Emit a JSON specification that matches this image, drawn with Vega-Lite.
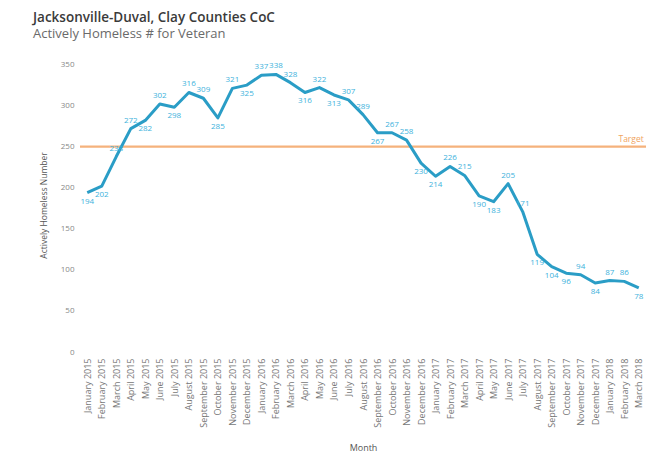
{
  "$schema": "https://vega.github.io/schema/vega-lite/v6.json",
  "width": 566,
  "height": 294,
  "autosize": {"type": "none"},
  "padding": {"left": 80, "top": 58, "right": 6, "bottom": 114},
  "background": "white",
  "title": {
    "text": "Jacksonville-Duval, Clay Counties CoC",
    "subtitle": "Actively Homeless # for Veteran",
    "anchor": "start",
    "frame": "group",
    "dx": -47,
    "offset": 17,
    "font": "Open Sans",
    "fontSize": 13.5,
    "fontWeight": 600,
    "color": "#3a3a3a",
    "subtitleFont": "Open Sans",
    "subtitleFontSize": 13,
    "subtitleColor": "#6a6a6a",
    "subtitlePadding": 4
  },
  "config": {
    "view": {"stroke": null},
    "font": "Open Sans"
  },
  "datasets": {
    "veterans": [
      {"month": "January 2015", "homeless": 194},
      {"month": "February 2015", "homeless": 202},
      {"month": "March 2015", "homeless": 238},
      {"month": "April 2015", "homeless": 272},
      {"month": "May 2015", "homeless": 282},
      {"month": "June 2015", "homeless": 302},
      {"month": "July 2015", "homeless": 298},
      {"month": "August 2015", "homeless": 316},
      {"month": "September 2015", "homeless": 309},
      {"month": "October 2015", "homeless": 285},
      {"month": "November 2015", "homeless": 321},
      {"month": "December 2015", "homeless": 325},
      {"month": "January 2016", "homeless": 337},
      {"month": "February 2016", "homeless": 338},
      {"month": "March 2016", "homeless": 328},
      {"month": "April 2016", "homeless": 316},
      {"month": "May 2016", "homeless": 322},
      {"month": "June 2016", "homeless": 313},
      {"month": "July 2016", "homeless": 307},
      {"month": "August 2016", "homeless": 289},
      {"month": "September 2016", "homeless": 267},
      {"month": "October 2016", "homeless": 267},
      {"month": "November 2016", "homeless": 258},
      {"month": "December 2016", "homeless": 230},
      {"month": "January 2017", "homeless": 214},
      {"month": "February 2017", "homeless": 226},
      {"month": "March 2017", "homeless": 215},
      {"month": "April 2017", "homeless": 190},
      {"month": "May 2017", "homeless": 183},
      {"month": "June 2017", "homeless": 205},
      {"month": "July 2017", "homeless": 171},
      {"month": "August 2017", "homeless": 119},
      {"month": "September 2017", "homeless": 104},
      {"month": "October 2017", "homeless": 96},
      {"month": "November 2017", "homeless": 94},
      {"month": "December 2017", "homeless": 84},
      {"month": "January 2018", "homeless": 87},
      {"month": "February 2018", "homeless": 86},
      {"month": "March 2018", "homeless": 78}
    ],
    "reference": [
      {"label": "Target", "month": "March 2018", "value": 250}
    ]
  },
  "layer": [
    {
      "data": {"name": "reference"},
      "mark": {"type": "rule", "color": "#f5b27c", "strokeWidth": 2.2},
      "encoding": {
        "y": {"field": "value", "type": "quantitative"}
      }
    },
    {
      "data": {"name": "veterans"},
      "mark": {"type": "line", "color": "#2a9dc6", "strokeWidth": 3, "strokeJoin": "round"},
      "encoding": {
        "x": {
          "field": "month",
          "type": "ordinal",
          "sort": null,
          "scale": {"type": "point", "padding": 0.5},
          "axis": {
            "title": "Month",
            "titleFontSize": 9,
            "titleFontWeight": "normal",
            "titleColor": "#555555",
            "titlePadding": 16,
            "labelAngle": 270,
            "labelAlign": "right",
            "labelBaseline": "middle",
            "labelFontSize": 9,
            "labelColor": "#777777",
            "labelPadding": 6,
            "ticks": false,
            "domain": false,
            "grid": false
          }
        },
        "y": {
          "field": "homeless",
          "type": "quantitative",
          "scale": {"domain": [0, 358], "nice": false},
          "axis": {
            "title": "Actively Homeless Number",
            "titleFontSize": 8.5,
            "titleFontWeight": "normal",
            "titleColor": "#555555",
            "titlePadding": 12,
            "values": [0, 50, 100, 150, 200, 250, 300, 350],
            "labelFontSize": 8,
            "labelColor": "#888888",
            "labelPadding": 6,
            "ticks": false,
            "domain": false,
            "grid": false
          }
        }
      }
    },
    {
      "data": {"name": "veterans"},
      "transform": [
        {"window": [
          {"op": "lag", "field": "homeless", "as": "prev"},
          {"op": "lead", "field": "homeless", "as": "next"}
        ]},
        {"filter": "isValid(datum.prev) && isValid(datum.next) && datum.homeless >= (datum.prev + datum.next) / 2"}
      ],
      "mark": {"type": "text", "color": "#3db2dc", "fontSize": 8, "baseline": "bottom", "dy": -4},
      "encoding": {
        "x": {"field": "month", "type": "ordinal", "sort": null},
        "y": {"field": "homeless", "type": "quantitative"},
        "text": {"field": "homeless"}
      }
    },
    {
      "data": {"name": "veterans"},
      "transform": [
        {"window": [
          {"op": "lag", "field": "homeless", "as": "prev"},
          {"op": "lead", "field": "homeless", "as": "next"}
        ]},
        {"filter": "!(isValid(datum.prev) && isValid(datum.next) && datum.homeless >= (datum.prev + datum.next) / 2)"}
      ],
      "mark": {"type": "text", "color": "#3db2dc", "fontSize": 8, "baseline": "top", "dy": 5},
      "encoding": {
        "x": {"field": "month", "type": "ordinal", "sort": null},
        "y": {"field": "homeless", "type": "quantitative"},
        "text": {"field": "homeless"}
      }
    },
    {
      "data": {"name": "reference"},
      "mark": {"type": "text", "color": "#f0a461", "fontSize": 8.5, "align": "right", "baseline": "bottom", "dy": -3, "dx": 5},
      "encoding": {
        "x": {"field": "month", "type": "ordinal", "sort": null},
        "y": {"field": "value", "type": "quantitative"},
        "text": {"field": "label"}
      }
    }
  ]
}
